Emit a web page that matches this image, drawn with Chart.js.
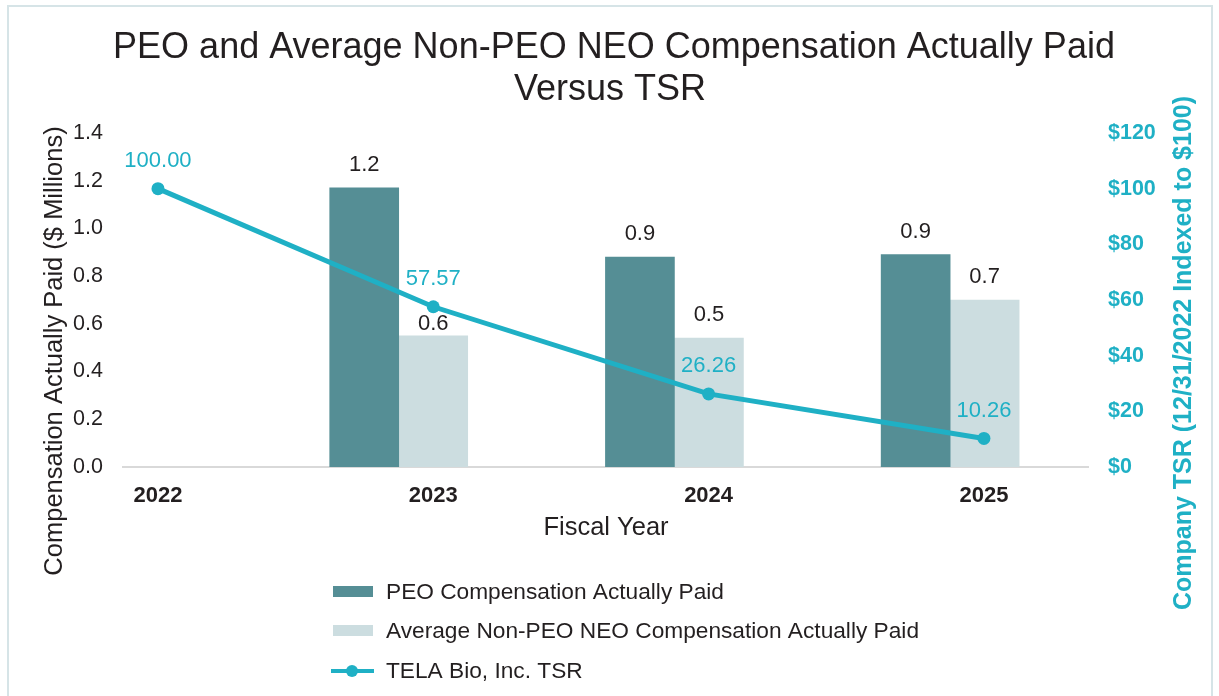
<!DOCTYPE html>
<html>
<head>
<meta charset="utf-8">
<script src="https://cdn.jsdelivr.net/npm/chart.js@4.4.1/dist/chart.umd.min.js"></script>
<style>
  html, body { margin: 0; padding: 0; background: #fff; }
  #wrap { width: 1219px; height: 696px; position: relative; }
</style>
</head>
<body>
<div id="wrap"><canvas id="tsrChart" width="1219" height="696"></canvas></div>
<script>
// values
var years = [2022, 2023, 2024, 2025];
var peoCap = [null, 1.17, 0.88, 0.89];
var neoCap = [null, 0.55, 0.54, 0.70];
var tsr = [100.00, 57.57, 26.26, 10.26];

var leftTicks = [0, 0.2, 0.4, 0.6, 0.8, 1.0, 1.2, 1.4];
var rightTicks = [0, 20, 40, 60, 80, 100, 120];

var titleLines = ['PEO and Average Non-PEO NEO Compensation Actually Paid', 'Versus TSR'];
var leftTitle = 'Compensation Actually Paid ($ Millions)';
var rightTitle = 'Company TSR (12/31/2022 Indexed to $100)';
var xTitle = 'Fiscal Year';

var PEO_COLOR = '#558e95';
var NEO_COLOR = '#ccdde0';
var TSR_COLOR = '#1fb0c5';
var TEXT = '#231f20';
var FONT = '"Liberation Sans", Arial, sans-serif';

function pts(vals) {
    return years.map(function (y, i) { return { x: y, y: vals[i] }; });
}

// titles, axis titles, legend, frame
var decorPlugin = {
    id: 'decor',
    beforeDraw: function (chart) {
        var ctx = chart.ctx;
        ctx.save();
        ctx.fillStyle = '#fff';
        ctx.fillRect(0, 0, chart.width, chart.height);
        ctx.strokeStyle = '#d6e4e7';
        ctx.lineWidth = 2;
        ctx.strokeRect(8, 6, 1204, 720);
        ctx.restore();
    },
    afterDraw: function (chart) {
        var ctx = chart.ctx;
        ctx.save();
        ctx.fillStyle = TEXT;
        ctx.textAlign = 'center';
        ctx.textBaseline = 'alphabetic';
        ctx.font = '36px ' + FONT;
        ctx.fillText(titleLines[0], 614, 58);
        ctx.fillText(titleLines[1], 610, 100);

        ctx.font = '25.5px ' + FONT;
        ctx.textBaseline = 'middle';
        ctx.fillText(xTitle, 606, 528);

        ctx.save();
        ctx.translate(55, 351);
        ctx.rotate(-Math.PI / 2);
        ctx.fillText(leftTitle, 0, 0);
        ctx.restore();

        ctx.save();
        ctx.translate(1184, 353);
        ctx.rotate(-Math.PI / 2);
        ctx.fillStyle = TSR_COLOR;
        ctx.font = 'bold 25px ' + FONT;
        ctx.fillText(rightTitle, 0, 0);
        ctx.restore();

        // legend, one entry per row
        var rows = [592, 631, 671];
        var ds = chart.data.datasets;
        var order = [1, 2, 0];
        ctx.font = '22.7px ' + FONT;
        ctx.textAlign = 'left';
        order.forEach(function (k, r) {
            var d = ds[k];
            var y = rows[r];
            if (d.type === 'line') {
                ctx.strokeStyle = d.borderColor;
                ctx.lineWidth = 4;
                ctx.beginPath();
                ctx.moveTo(331, y);
                ctx.lineTo(374, y);
                ctx.stroke();
                ctx.fillStyle = d.borderColor;
                ctx.beginPath();
                ctx.arc(352, y, 6, 0, Math.PI * 2);
                ctx.fill();
            } else {
                ctx.fillStyle = d.backgroundColor;
                ctx.fillRect(333, y - 6, 40, 11);
            }
            ctx.fillStyle = TEXT;
            ctx.fillText(d.label, 386, y + 1);
        });
        ctx.restore();
    }
};

// value labels above bars and points; a bar label that would sit on a
// line marker is pushed just below that marker
var valuePlugin = {
    id: 'values',
    afterDatasetsDraw: function (chart) {
        var ctx = chart.ctx;
        var markers = [];
        chart.data.datasets.forEach(function (d, i) {
            if (d.type === 'line') {
                chart.getDatasetMeta(i).data.forEach(function (el) { markers.push(el); });
            }
        });
        ctx.save();
        ctx.textAlign = 'center';
        ctx.textBaseline = 'middle';
        ctx.font = '22px ' + FONT;
        chart.data.datasets.forEach(function (d, i) {
            var meta = chart.getDatasetMeta(i);
            meta.data.forEach(function (el, j) {
                var v = d.data[j].y;
                if (v == null) return;
                if (d.type === 'line') {
                    ctx.fillStyle = TSR_COLOR;
                    ctx.fillText(v.toFixed(2), el.x, el.y - 28);
                    return;
                }
                var ly = el.y - 23;
                markers.forEach(function (m) {
                    if (Math.abs(m.x - el.x) < 22 && Math.abs(m.y - ly) < 16) {
                        ly = m.y + 17;
                    }
                });
                ctx.fillStyle = TEXT;
                ctx.fillText(v.toFixed(1), el.x, ly);
            });
        });
        ctx.restore();
    }
};

var ctx = document.getElementById('tsrChart').getContext('2d');
var chart = new Chart(ctx, {
    data: {
        datasets: [{
            type: 'line',
            label: 'TELA Bio, Inc. TSR',
            data: pts(tsr),
            xAxisID: 'x2',
            yAxisID: 'y2',
            borderColor: TSR_COLOR,
            backgroundColor: TSR_COLOR,
            borderWidth: 5,
            pointRadius: 6.5,
            pointBorderWidth: 0,
            tension: 0,
            order: 0
        }, {
            type: 'bar',
            label: 'PEO Compensation Actually Paid',
            data: pts(peoCap),
            xAxisID: 'x',
            yAxisID: 'y',
            backgroundColor: PEO_COLOR,
            barThickness: 69,
            order: 1
        }, {
            type: 'bar',
            label: 'Average Non-PEO NEO Compensation Actually Paid',
            data: pts(neoCap),
            xAxisID: 'x',
            yAxisID: 'y',
            backgroundColor: NEO_COLOR,
            barThickness: 69,
            order: 1
        }]
    },
    options: {
        responsive: false,
        animation: false,
        layout: { padding: { top: 133, bottom: 189, left: 0, right: 0 } },
        plugins: {
            legend: { display: false },
            title: { display: false },
            tooltip: { enabled: false }
        },
        scales: {
            x: {
                type: 'linear',
                display: false,
                offset: false,
                min: 2022,
                max: 2025.5
            },
            x2: {
                type: 'linear',
                position: 'bottom',
                offset: false,
                min: 2021.873,
                max: 2025.378,
                afterBuildTicks: function (s) {
                    s.ticks = years.map(function (y) { return { value: y }; });
                },
                afterFit: function (s) { s.height = 40; },
                grid: { display: false, drawTicks: false },
                border: { display: true, color: '#d9d9d9', width: 2 },
                ticks: {
                    padding: 16,
                    color: TEXT,
                    font: { family: FONT, size: 22, weight: 'bold' },
                    callback: function (v) { return String(v); }
                }
            },
            y: {
                position: 'left',
                min: 0,
                max: 1.4,
                afterBuildTicks: function (s) {
                    s.ticks = leftTicks.map(function (v) { return { value: v }; });
                },
                afterFit: function (s) { s.width = 123; },
                grid: { display: false, drawTicks: false },
                border: { display: false },
                ticks: {
                    padding: 20,
                    color: TEXT,
                    font: { family: FONT, size: 21.5 },
                    callback: function (v) { return v.toFixed(1); }
                }
            },
            y2: {
                position: 'right',
                min: 0,
                max: 120,
                afterBuildTicks: function (s) {
                    s.ticks = rightTicks.map(function (v) { return { value: v }; });
                },
                afterFit: function (s) { s.width = 131; },
                grid: { display: false, drawTicks: false },
                border: { display: false },
                ticks: {
                    padding: 20,
                    color: TSR_COLOR,
                    font: { family: FONT, size: 21.5, weight: 'bold' },
                    callback: function (v) { return '$' + v; }
                }
            }
        }
    },
    plugins: [decorPlugin, valuePlugin]
});
</script>
</body>
</html>
